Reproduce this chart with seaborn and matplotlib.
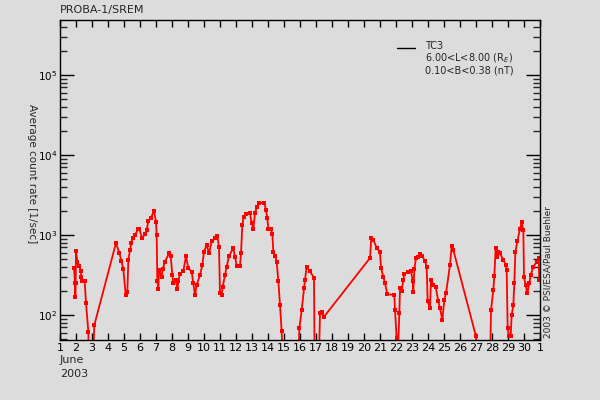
import numpy as np
import pandas as pd
import matplotlib
matplotlib.use("Agg")
import matplotlib.pyplot as plt
from matplotlib.ticker import FixedLocator, LogLocator, NullFormatter
import seaborn as sns

# hours since 2003-06-01 00:00 UT
hours = [21, 22.5, 23, 23.5, 24, 26, 29, 31, 32, 33, 37, 39, 42.5, 43.5, 49, 51.5,
         84, 89, 92, 95, 98.5, 101, 102.5, 105, 107, 109, 112.5, 117, 119, 123, 128,
         130, 132.5, 136, 141, 144, 145, 146, 147.5, 148.5, 152.5, 154, 157.5, 163.5,
         166, 168.5, 170, 173.5, 176, 177.5, 180, 185, 189, 192.5, 197.5, 200, 202.5,
         205, 210, 213.5, 216, 220, 223.5, 227.5, 232.5, 236, 238.5, 240, 242.5, 244,
         247.5, 250, 253.5, 260, 262.5, 265, 270, 271.5, 273.5, 275.5, 278.5, 285,
         287.5, 290, 292.5, 295, 299, 306.5, 309, 311, 312.5, 316, 318.5, 320, 322.5,
         325, 327.5, 330, 332.5, 334.5, 357, 359, 362.5, 366, 367.5, 370, 375, 381,
         382, 388, 390, 392.5, 396, 465, 467, 470, 475, 480, 481.5, 485, 487.5, 491,
         501.5, 502.5, 505, 507.5, 509, 510, 512.5, 515, 516.5, 522.5, 526.5, 529, 530,
         531.5, 534, 537.5, 540, 543.5, 547.5, 550, 551.5, 555, 556.5, 560, 563.5,
         567.5, 570, 573.5, 576.5, 579, 585, 587.5, 590, 624, 625.5, 645, 646.5, 650,
         651.5, 653.5, 656, 657.5, 660, 665, 669, 670, 671.5, 673.5, 676, 677.5, 680,
         681.5, 683, 686, 690, 692.5, 695, 696, 698.5, 701, 704, 706, 710, 715, 718, 719]

rate = [390, 250, 168, 250, 630, 466, 415, 355, 300, 266, 266, 141, 62, 20, 20, 75,
        795, 596, 477, 376, 178, 195, 487, 650, 795, 930, 1000, 1180, 1200, 915, 1030,
        1150, 1500, 1610, 1990, 1470, 1000, 266, 211, 365, 300, 376, 466, 590,
        545, 316, 250, 275, 211, 266, 330, 355, 545, 383, 348, 250, 178,
        237, 316, 422, 620, 750, 590, 830, 910, 980, 710, 187, 178, 225,
        316, 400, 545, 690, 535, 415, 415, 590, 1330, 1700, 1820, 1860,
        1410, 1200, 1860, 2230, 2510, 2510, 2050, 1610, 1200, 1200, 1030, 620, 545,
        466, 266, 133, 63, 20, 20, 68, 115, 215, 275, 400, 350, 293,
        20, 20, 105, 110, 95, 516, 930, 870, 690, 605, 390, 300, 250, 182,
        178, 115, 51, 45, 105, 218, 200, 275, 330, 340, 355, 266, 195,
        376, 516, 535, 575, 540, 473, 400, 148, 121, 275, 240, 225,
        148, 121, 87, 155, 187, 422, 735, 650, 54, 20, 20, 115, 205,
        310, 690, 535, 620, 590, 487, 422, 365, 68, 54, 54, 100, 133,
        250, 605, 830, 1200, 1450, 1150, 300, 237, 187, 250, 315, 400, 466, 516, 275]

day_ticks = list(range(1, 32))
day_labels = [str(d) for d in range(1, 31)] + ["1"]
y_ticks = [1e2, 1e3, 1e4, 1e5]
y_labels = ["10$^2$", "10$^3$", "10$^4$", "10$^5$"]
legend_lines = ["TC3", "6.00<L<8.00 (R$_E$)", "0.10<B<0.38 (nT)"]

df = pd.DataFrame({"day": 1 + np.array(hours) / 24.0, "rate": rate})

bg = "#dcdcdc"
sns.set_style("ticks")
plt.rcParams["font.family"] = ["DejaVu Sans"]
plt.rcParams["xtick.direction"] = "in"
plt.rcParams["ytick.direction"] = "in"

fig = plt.figure(figsize=(6, 4), dpi=100, facecolor=bg)
ax = fig.add_axes([0.1, 0.15, 0.8, 0.8])
ax.set_facecolor(bg)

sns.lineplot(data=df, x="day", y="rate", sort=False, estimator=None, ax=ax,
             color="#ff0000", linewidth=1.3, marker="s", markersize=3,
             markeredgewidth=0, legend=False)

ax.set_yscale("log")
ax.set_xlim(1, 31)
ax.set_ylim(48.7, 4.87e5)

ax.xaxis.set_major_locator(FixedLocator(day_ticks))
ax.set_xticklabels(day_labels)
ax.yaxis.set_major_locator(FixedLocator(y_ticks))
ax.set_yticklabels(y_labels)
ax.yaxis.set_minor_locator(LogLocator(base=10, subs=np.arange(2, 10), numticks=20))
ax.yaxis.set_minor_formatter(NullFormatter())

for sp in ax.spines.values():
    sp.set_color("black")
    sp.set_linewidth(1.0)
    sp.set_visible(True)

ax.tick_params(axis="x", which="major", top=True, bottom=True, length=5, width=1,
               labelsize=8, pad=2, colors="black")
ax.tick_params(axis="y", which="major", left=True, right=True, length=10, width=1,
               labelsize=7.5, pad=2, colors="black")
ax.tick_params(axis="y", which="minor", left=True, right=True, length=5, width=1)

ax.set_xlabel("")
ax.set_ylabel("Average count rate [1/sec]", rotation=270, fontsize=7.5)
ax.yaxis.set_label_coords(-0.068, 0.52)

fig.text(0.1, 0.975, "PROBA-1/SREM", fontsize=8, ha="left", va="center")
fig.text(0.1, 0.1, "June", fontsize=8, ha="left", va="center")
fig.text(0.1, 0.065, "2003", fontsize=8, ha="left", va="center")
fig.text(0.913, 0.155, "2003 \u00a9 PSI/ESA/Paul Buehler", fontsize=6.5,
         rotation=90, ha="center", va="bottom")

# legend
fig.add_artist(plt.Line2D([397 / 600, 415 / 600], [1 - 48 / 400, 1 - 48 / 400],
                          color="black", linewidth=1))
fig.text(425 / 600, 1 - 41 / 400, "\n".join(legend_lines), fontsize=7,
         ha="left", va="top", linespacing=1.05)

fig.savefig("out.png", dpi=100, facecolor=bg)
